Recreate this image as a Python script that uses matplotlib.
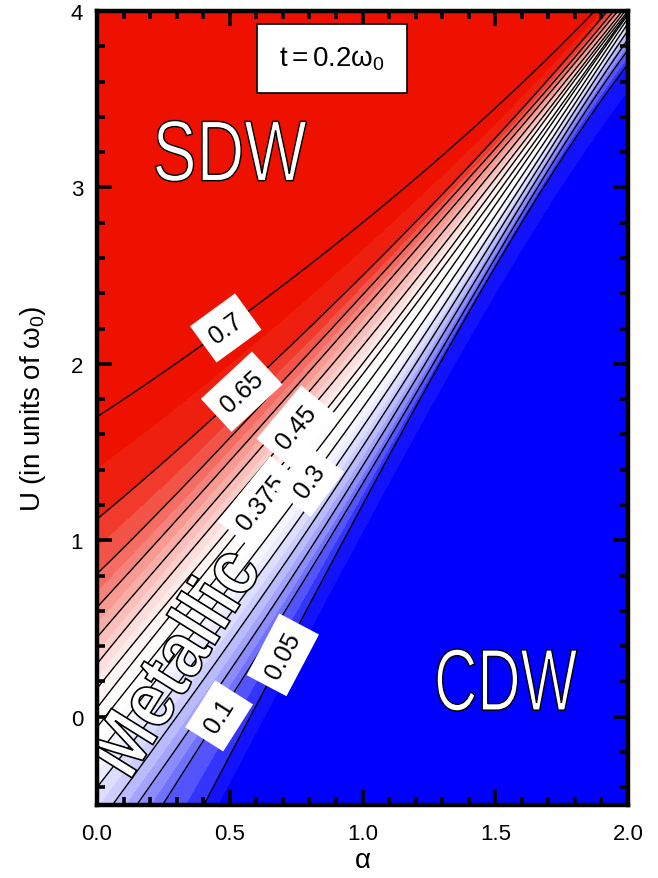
import numpy as np
import matplotlib
matplotlib.use("Agg")
import matplotlib.pyplot as plt
from matplotlib.patches import PathPatch, Rectangle
from matplotlib.textpath import TextPath
from matplotlib.font_manager import FontProperties
from matplotlib.transforms import Affine2D, IdentityTransform
from matplotlib.ticker import MultipleLocator, FixedLocator

plt.rcParams['font.family'] = ['Liberation Sans', 'DejaVu Sans']
plt.rcParams['mathtext.fontset'] = 'custom'
plt.rcParams['mathtext.rm'] = 'Liberation Sans'
plt.rcParams['mathtext.it'] = 'Liberation Sans:italic'

FIG_W, FIG_H = 658, 879

# ---------------- DATA ----------------
# alpha positions where each contour line was read
alpha_st = [0.0, 0.5, 1.0, 1.5, 2.0]
line_levels = [0.05, 0.1, 0.15, 0.2, 0.25, 0.3, 0.35, 0.375,
               0.4, 0.45, 0.5, 0.55, 0.6, 0.65, 0.7]
# U of every contour line at alpha_st (values outside -0.5..4 are extrapolated)
line_u = [
    [-1.65, -0.22, 1.20, 2.55, 3.70],   # 0.05
    [-1.10, 0.10, 1.32, 2.60, 3.78],    # 0.1
    [-0.82, 0.26, 1.42, 2.66, 3.84],    # 0.15
    [-0.62, 0.42, 1.53, 2.72, 3.89],    # 0.2
    [-0.40, 0.58, 1.64, 2.78, 3.93],    # 0.25
    [-0.22, 0.74, 1.75, 2.84, 3.96],    # 0.3
    [-0.06, 0.88, 1.85, 2.90, 3.98],    # 0.35
    [0.05, 0.99, 1.94, 2.95, 3.99],     # 0.375
    [0.16, 1.07, 2.00, 3.00, 4.00],     # 0.4
    [0.30, 1.20, 2.10, 3.05, 4.02],     # 0.45
    [0.45, 1.32, 2.20, 3.11, 4.04],     # 0.5
    [0.62, 1.45, 2.30, 3.17, 4.07],     # 0.55
    [0.81, 1.58, 2.39, 3.22, 4.10],     # 0.6
    [1.12, 1.78, 2.50, 3.28, 4.14],     # 0.65
    [1.70, 2.22, 2.80, 3.45, 4.20],     # 0.7
]
label_levels = [0.7, 0.65, 0.45, 0.375, 0.3, 0.1, 0.05]
label_alpha = [0.485, 0.545, 0.75, 0.62, 0.80, 0.46, 0.70]

x_ticks = [0.0, 0.5, 1.0, 1.5, 2.0]
x_ticklabels = ["0.0", "0.5", "1.0", "1.5", "2.0"]
y_ticks = [0, 1, 2, 3, 4]
y_ticklabels = ["0", "1", "2", "3", "4"]

# ---------------- COLOURS ----------------
BLUE = np.array([0, 0, 255]) / 255
RED = np.array([238, 17, 0]) / 255
WHITE = np.ones(3)
fill_levels = [-1.0] + list(np.round(np.arange(1, 28) * 0.025, 3)) + [2.0]


def band_colour(lo, hi):
    if lo < 0.025:
        return BLUE
    if hi > 0.675:
        return RED
    m = 0.5 * (lo + hi)
    if m < 0.34:
        f = ((0.34 - m) / (0.34 - 0.025)) ** 1.8
        return WHITE * (1 - f) + BLUE * f
    f = ((m - 0.34) / (0.675 - 0.34)) ** 1.6
    return WHITE * (1 - f) + RED * f


fill_colours = [band_colour(fill_levels[i], fill_levels[i + 1])
                for i in range(len(fill_levels) - 1)]

# ---------------- FIELD FROM THE CONTOUR LINES ----------------
a = np.linspace(0, 2, 401)
rows = [np.polyval(np.polyfit(alpha_st, us, 4), a) for us in line_u]
lo, hi = rows[0], rows[-1]
all_rows = np.array([lo - 8, lo - 0.3] + rows + [hi + 0.6, hi + 8])
all_rows = np.maximum.accumulate(all_rows, axis=0)
all_p = np.array([-0.5, 0.0] + line_levels + [0.75, 1.2])
A = np.tile(a, (len(all_p), 1))
P = np.repeat(all_p[:, None], len(a), axis=1)

# ---------------- FIGURE ----------------
fig = plt.figure(figsize=(FIG_W / 100, FIG_H / 100), dpi=100)
ax = fig.add_axes([97 / FIG_W, 73 / FIG_H, 531 / FIG_W, 794 / FIG_H])

ax.contourf(A, all_rows, P, levels=fill_levels, colors=fill_colours,
            antialiased=False)
for r in rows:
    ax.plot(a, r, color='black', lw=1.0, zorder=3)

# contour labels on white boxes
for lev, al in zip(label_levels, label_alpha):
    r = rows[line_levels.index(lev)]
    u = np.interp(al, a, r)
    slope = np.gradient(r, a)[np.searchsorted(a, al)]
    ang = np.degrees(np.arctan(slope))
    ax.text(al, u, f"{lev:g}", fontsize=18, ha='center', va='center',
            rotation=ang, transform_rotates_text=True, rotation_mode='anchor',
            zorder=4,
            bbox=dict(boxstyle='square,pad=0.42', facecolor='white',
                      edgecolor='none'))


def outline_text(s, cx, cy, length, height, angle=0, weight='normal', lw=1.0):
    """White text with black outline, stretched to a pixel box centred on (cx, cy)."""
    tp = TextPath((0, 0), s, size=1,
                  prop=FontProperties(family='Liberation Sans', weight=weight))
    ext = tp.get_extents()
    tr = (Affine2D()
          .translate(-ext.x0 - ext.width / 2, -ext.y0 - ext.height / 2)
          .scale(length / ext.width, height / ext.height)
          .rotate_deg(angle)
          .translate(cx, FIG_H - cy))
    patch = PathPatch(tp, transform=tr + IdentityTransform(),
                      facecolor='white', edgecolor='black', lw=lw, zorder=5)
    ax.add_artist(patch)


outline_text("SDW", 231, 152, 151, 61)
outline_text("CDW", 507, 681, 140, 62)
outline_text("Metallic", 173, 660, 245, 58, angle=58, weight='bold', lw=1.2)

# parameter box
ax.add_patch(Rectangle((0.604, 3.535), 0.562, 0.391, facecolor='white',
                       edgecolor='black', lw=1.2, zorder=5))
ax.text(0.885, 3.73, r'$\mathrm{t = 0.2\omega_0}$', fontsize=20,
        ha='center', va='center', zorder=6)

# ---------------- AXES ----------------
ax.set_xlim(0, 2)
ax.set_ylim(-0.5, 4)
ax.xaxis.set_major_locator(FixedLocator(x_ticks))
ax.set_xticklabels(x_ticklabels)
ax.yaxis.set_major_locator(FixedLocator(y_ticks))
ax.set_yticklabels(y_ticklabels)
ax.xaxis.set_minor_locator(MultipleLocator(0.1))
ax.yaxis.set_minor_locator(MultipleLocator(0.2))
ax.tick_params(which='both', direction='in', top=True, right=True,
               width=2.6, labelsize=16)
ax.tick_params(which='major', length=11)
ax.tick_params(which='minor', length=6)
ax.tick_params(axis='x', pad=13)
ax.tick_params(axis='y', pad=10)
for sp in ax.spines.values():
    sp.set_linewidth(3.2)
    sp.set_zorder(10)

ax.set_xlabel('α', fontsize=20, labelpad=2)
ax.set_ylabel(r'U (in units of $\mathrm{\omega_0}$)', fontsize=20, labelpad=16)

fig.savefig('out.png', dpi=100)
